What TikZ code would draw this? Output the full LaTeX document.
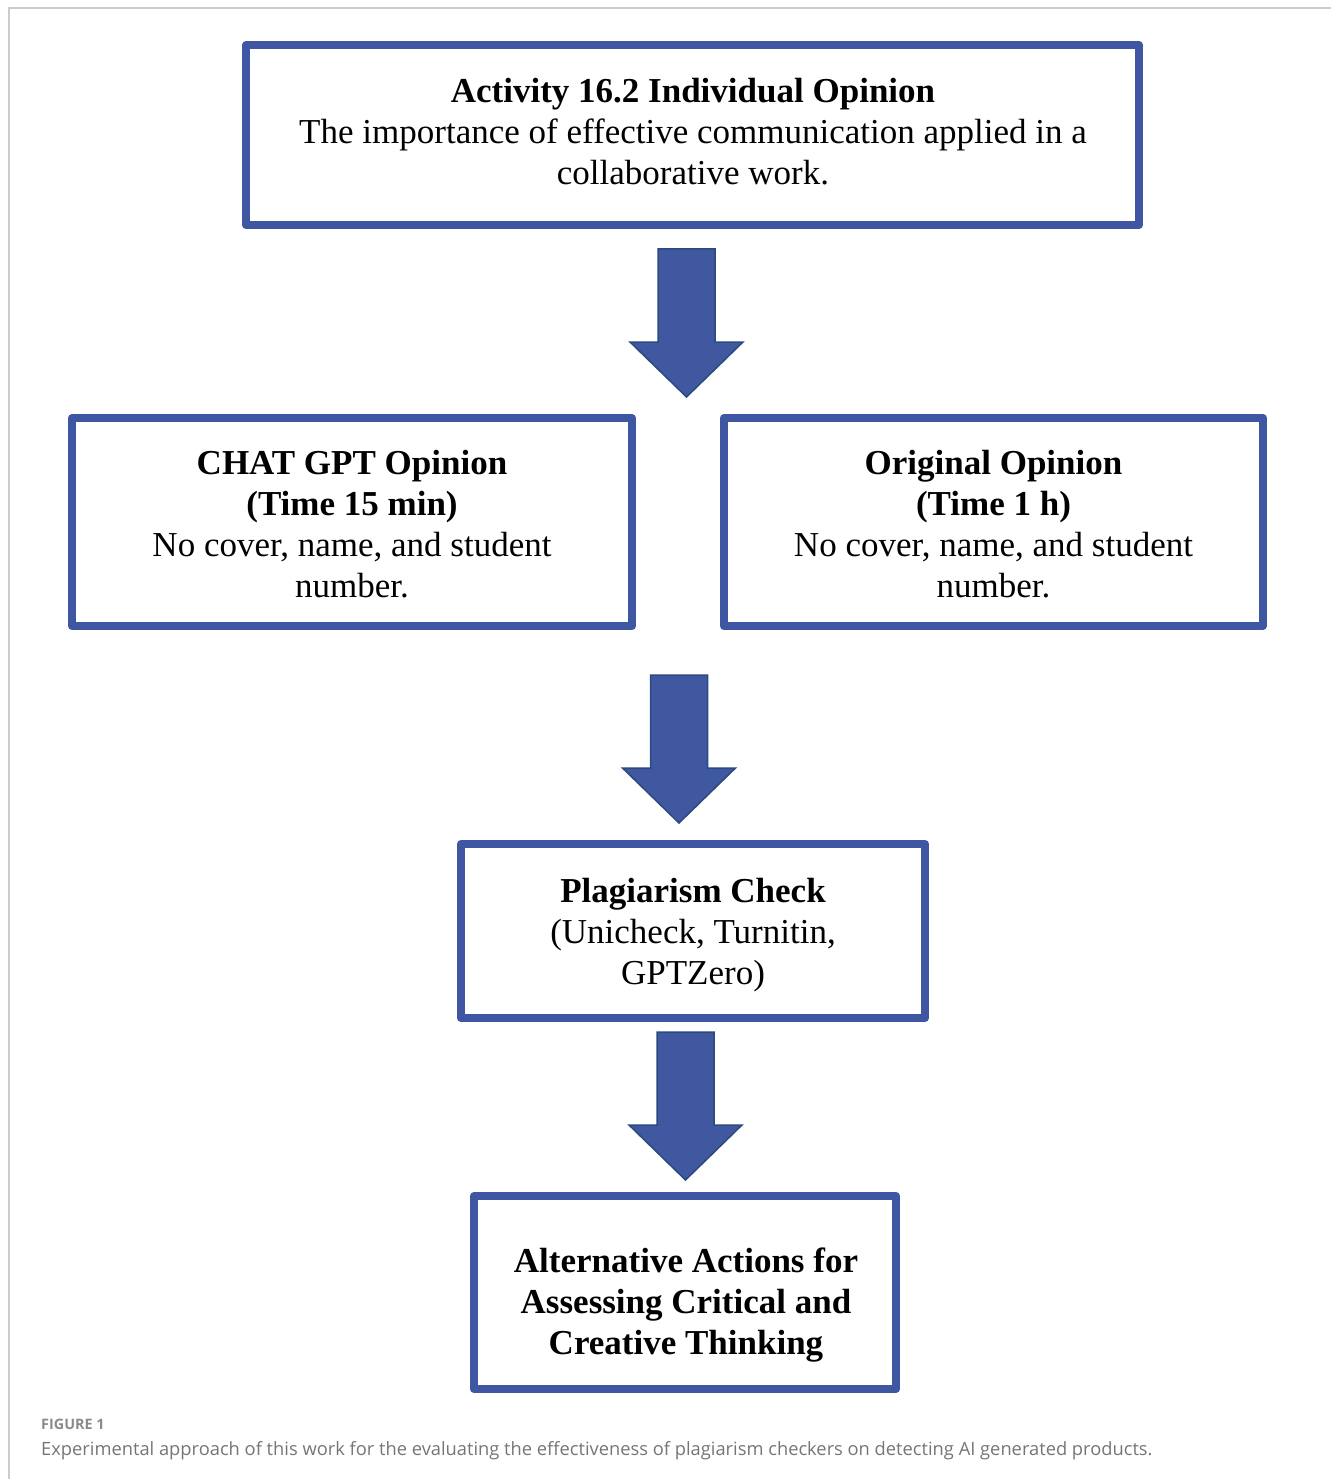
\documentclass[tikz,border=0pt]{standalone}
\usepackage{fontspec}
\setmainfont{Liberation Serif}
\newfontfamily\capfont{Open Sans}
\definecolor{boxblue}{HTML}{3F56A3}
\definecolor{arrowfill}{HTML}{3F58A0}
\definecolor{arrowedge}{HTML}{2B4A80}
\definecolor{framegrey}{HTML}{CCCCCC}
\definecolor{capgrey}{HTML}{757575}
\tikzset{
  flowbox/.style={draw=boxblue, line width=8pt, line join=round, rectangle, inner sep=0pt},
  boxtext/.style={align=center, inner sep=0pt, font=\fontsize{35}{41}\selectfont},
  blockarrow/.style={draw=arrowedge, fill=arrowfill, line width=1.5pt, line join=miter},
}
% block arrow centred on a named coordinate: shaft 57 wide, head 113 wide, length 148, head 55
\newcommand{\blockarrowat}[1]{%
  \path[blockarrow] ([shift={(-28.5,-74)}]#1) -- ([shift={(28.5,-74)}]#1) -- ([shift={(28.5,19)}]#1)
    -- ([shift={(56.5,19)}]#1) -- ([shift={(0,74)}]#1) -- ([shift={(-56.5,19)}]#1)
    -- ([shift={(-28.5,19)}]#1) -- cycle;}
\begin{document}
\begin{tikzpicture}[x=1pt,y=-1pt]
\useasboundingbox (0,0) rectangle (1331,1479);
% frame
\coordinate (fr1) at (1331,8);
\coordinate (fr2) at (9,8);
\coordinate (fr3) at (9,1479);
\draw[framegrey, line width=2pt] (fr1) -- (fr2) -- (fr3);

% boxes
\node[flowbox, minimum width=893pt, minimum height=180pt] (top) at (692.5,135) {};
\node[boxtext] (toptext) at (693,132) {\textbf{Activity 16.2 Individual Opinion}\\The importance of effective communication applied in a\\collaborative work.};

\node[flowbox, minimum width=560pt, minimum height=208pt] (left) at (352,522) {};
\node[boxtext] (lefttext) at (352,524.5) {\textbf{CHAT GPT Opinion}\\\textbf{(Time 15 min)}\\No cover, name, and student\\number.};

\node[flowbox, minimum width=539pt, minimum height=208pt] (right) at (993.5,522) {};
\node[boxtext] (righttext) at (993.5,524.5) {\textbf{Original Opinion}\\\textbf{(Time 1 h)}\\No cover, name, and student\\number.};

\node[flowbox, minimum width=464pt, minimum height=174pt] (plag) at (693,931) {};
\node[boxtext] (plagtext) at (693,935) {\textbf{Plagiarism Check}\\(Unicheck, Turnitin,\\GPTZero)};

\node[flowbox, minimum width=422pt, minimum height=193pt] (alt) at (685,1292.5) {};
\node[boxtext] (alttext) at (686,1305) {\textbf{Alternative Actions for}\\\textbf{Assessing Critical and}\\\textbf{Creative Thinking}};

% block arrows
\coordinate (arr1) at (686.5,323);
\coordinate (arr2) at (679,749);
\coordinate (arr3) at (685.5,1106);
\blockarrowat{arr1}
\blockarrowat{arr2}
\blockarrowat{arr3}

% caption
\node[anchor=west, inner sep=0pt, text=capgrey!85, font=\capfont\bfseries\fontsize{14.4}{16}\selectfont] (figlabel) at (41,1424) {FIGURE 1};
\node[anchor=west, inner sep=0pt, text=capgrey, font=\capfont\fontsize{18.3}{22}\selectfont] (caption) at (41,1451) {Experimental approach of this work for the evaluating the effectiveness of plagiarism checkers on detecting AI generated products.};
\end{tikzpicture}
\end{document}
